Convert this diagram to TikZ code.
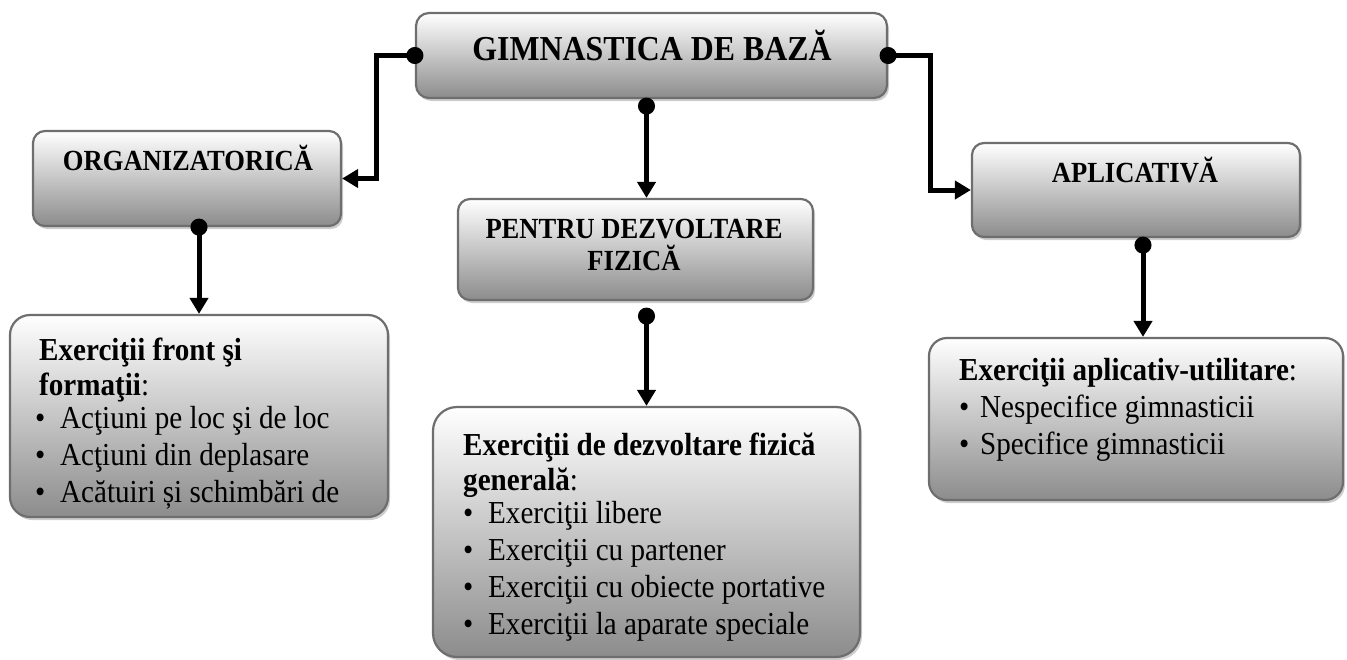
\documentclass[tikz,border=0pt]{standalone}
\usepackage{fontspec}
\setmainfont{Liberation Serif}
\newfontfamily\tallserif[FakeStretch=0.91]{Liberation Serif}
\usetikzlibrary{arrows.meta,shadows,calc}
\definecolor{boxline}{RGB}{110,110,110}
\definecolor{boxbot}{RGB}{140,140,140}
\definecolor{shadowc}{RGB}{205,205,205}
\newcommand{\bulitem}{\makebox[25pt][l]{•}}
\newcommand{\bulitemb}{\makebox[21pt][l]{•}}
\begin{document}
\begin{tikzpicture}[x=1pt,y=-1pt,
 box/.style={draw=boxline, line width=2.2pt, top color=white, bottom color=boxbot, inner sep=0pt,
   drop shadow={shadow xshift=2pt, shadow yshift=-3pt, fill=shadowc, opacity=1}},
 title/.style={font=\tallserif\bfseries\fontsize{35}{40}\selectfont, anchor=base, inner sep=0pt},
 subtitle/.style={font=\tallserif\bfseries\fontsize{29.2}{32}\selectfont, anchor=base, inner sep=0pt, align=center},
 body/.style={font=\tallserif\fontsize{32}{37}\selectfont, anchor=north west, inner sep=0pt, align=left},
 conn/.style={line width=5pt, {Circle[length=17pt]}-{Triangle[length=16pt,width=18pt]}, shorten <=-8.5pt}
]
\useasboundingbox (0,0) rectangle (1347,659);

% boxes
\node[box, rounded corners=13pt, minimum width=471pt, minimum height=85pt] (top) at (651.5,55.5) {};
\node[box, rounded corners=12pt, minimum width=308pt, minimum height=95pt] (org) at (187,178.5) {};
\node[box, rounded corners=12pt, minimum width=355pt, minimum height=101pt] (pentru) at (635.5,249.5) {};
\node[box, rounded corners=12pt, minimum width=328pt, minimum height=94pt] (apl) at (1136,190) {};
\node[box, rounded corners=20pt, minimum width=378pt, minimum height=202pt] (front) at (199,416) {};
\node[box, rounded corners=24pt, minimum width=427pt, minimum height=250pt] (dezv) at (646.5,532) {};
\node[box, rounded corners=18pt, minimum width=414pt, minimum height=162pt] (aplex) at (1136,419) {};

% titles
\node[title] (ttop) at (652,60) {GIMNASTICA DE BAZĂ};
\node[subtitle] (torg) at (188,170) {ORGANIZATORICĂ};
\node[subtitle, anchor=north] (tpentru) at (634,218.5) {PENTRU DEZVOLTARE\\FIZICĂ};
\node[subtitle] (tapl) at (1135,182) {APLICATIVĂ};

% body texts
\node[body] (tfront) at (35,338) {\kern4pt\textbf{Exerciţii front şi}\\[-2pt]\kern4pt\textbf{formaţii}:\\[-4pt]\bulitem Acţiuni pe loc şi de loc\\\bulitem Acţiuni din deplasare\\\bulitem Acătuiri și schimbări de};
\node[body] (tdezv) at (463,433) {\textbf{Exerciţii de dezvoltare fizică}\\[-2pt]\textbf{generală}:\\[-4pt]\bulitem Exerciţii libere\\\bulitem Exerciţii cu partener\\\bulitem Exerciţii cu obiecte portative\\\bulitem Exerciţii la aparate speciale};
\node[body] (taplex) at (959,358) {\textbf{Exerciţii aplicativ-utilitare}:\\\bulitemb Nespecifice gimnasticii\\\bulitemb Specifice gimnasticii};

% connectors
\draw[conn] (top.west) -- ++(-38,0) |- (org.east);
\draw[conn] (top.east) -- ++(42,0) |- (apl.west);
\draw[conn] ($(top.south -| dezv.north)+(0,7)$) -- (pentru.north -| dezv.north);
\draw[conn] ($(pentru.south -| dezv.north)+(0,15)$) -- (dezv.north);
\draw[conn] (org.south -| front.north) -- (front.north);
\draw[conn] ($(apl.south)+(7,7)$) -- ($(aplex.north)+(7,0)$);
\end{tikzpicture}
\end{document}
